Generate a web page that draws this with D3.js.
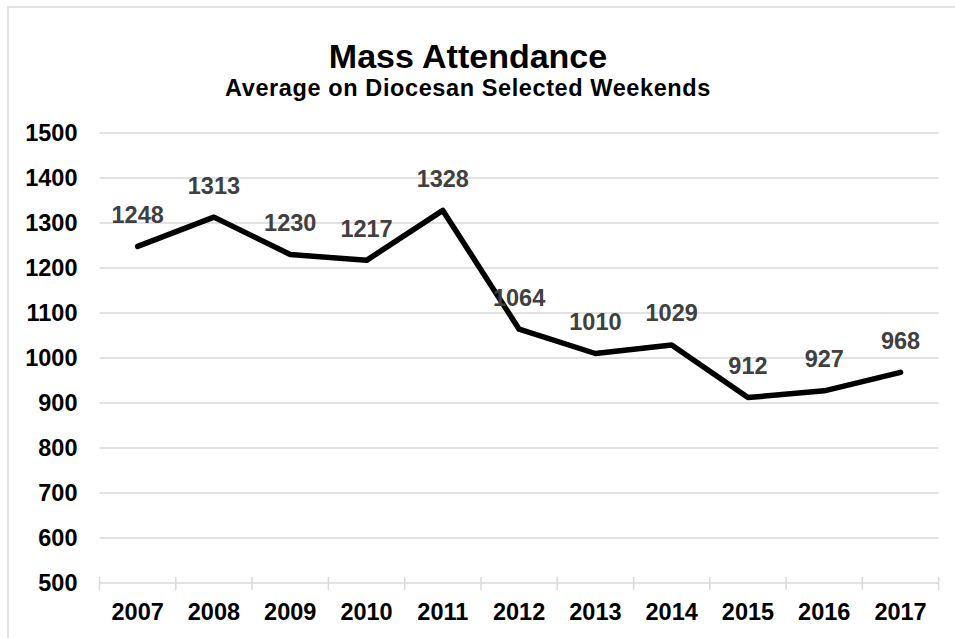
<!DOCTYPE html>
<html>
<head>
<meta charset="utf-8">
<script src="https://cdn.jsdelivr.net/npm/d3@7"></script>
<style>
  body { margin: 0; background: #fff; }
  text { font-family: Arial, "Liberation Sans", sans-serif; font-weight: bold; }
</style>
</head>
<body>
<div id="chart-container"></div>
<script>
const years = ["2007", "2008", "2009", "2010", "2011", "2012", "2013", "2014", "2015", "2016", "2017"];
const attendance = [1248, 1313, 1230, 1217, 1328, 1064, 1010, 1029, 912, 927, 968];
const yTicks = [500, 600, 700, 800, 900, 1000, 1100, 1200, 1300, 1400, 1500];

const svgWidth = 955,
    svgHeight = 638,
    margin = { top: 133, right: 16.3, bottom: 55, left: 99.5 },
    width = svgWidth - margin.left - margin.right,
    height = svgHeight - margin.top - margin.bottom;

const root = d3.select("#chart-container").append("svg")
    .attr("width", svgWidth)
    .attr("height", svgHeight);

// chart area border (runs off the right and bottom edges)
root.append("rect")
    .attr("x", 8).attr("y", 7)
    .attr("width", 1000).attr("height", 700)
    .attr("fill", "none")
    .attr("stroke", "#d9d9d9")
    .attr("stroke-width", 1.5);

// titles
root.append("text")
    .attr("x", 468).attr("y", 67.5)
    .attr("text-anchor", "middle")
    .attr("font-size", 34)
    .attr("fill", "#000")
    .text("Mass Attendance");
root.append("text")
    .attr("x", 468).attr("y", 96)
    .attr("text-anchor", "middle")
    .attr("font-size", 23.5)
    .attr("letter-spacing", 0.6)
    .attr("fill", "#000")
    .text("Average on Diocesan Selected Weekends");

const svg = root.append("g")
    .attr("transform", `translate(${margin.left},${margin.top})`);

// scales
let xScale = d3.scaleBand()
        .domain(years)
        .range([0, width]),
    yScale = d3.scaleLinear()
        .domain([500, 1500])
        .range([height, 0]);

// gridlines
svg.append("g")
    .selectAll("line")
    .data(yTicks.slice(1))
    .join("line")
    .attr("x1", 0).attr("x2", width)
    .attr("y1", (d) => yScale(d)).attr("y2", (d) => yScale(d))
    .attr("stroke", "#d9d9d9")
    .attr("stroke-width", 1.5);

// y axis labels
let yAxis = svg.append("g")
    .call(d3.axisLeft(yScale).tickValues(yTicks).tickFormat(d3.format("d")).tickSize(0).tickPadding(22));
yAxis.select(".domain").remove();
yAxis.selectAll("text")
    .attr("font-size", 23.5)
    .attr("font-family", "Arial, 'Liberation Sans', sans-serif")
    .attr("fill", "#000");

// x axis with crossing tick marks at category boundaries
let xAxis = svg.append("g")
    .attr("transform", `translate(0, ${height})`);
xAxis.append("line")
    .attr("x1", 0).attr("x2", width)
    .attr("stroke", "#d9d9d9")
    .attr("stroke-width", 1.5);
xAxis.selectAll(".bound")
    .data(years.concat(["end"]))
    .join("line")
    .attr("class", "bound")
    .attr("x1", (d, i) => i * xScale.step())
    .attr("x2", (d, i) => i * xScale.step())
    .attr("y1", -6).attr("y2", 7)
    .attr("stroke", "#d9d9d9")
    .attr("stroke-width", 1.5);
xAxis.selectAll(".xlabel")
    .data(years)
    .join("text")
    .attr("class", "xlabel")
    .attr("x", (d) => xScale(d) + xScale.bandwidth() / 2)
    .attr("y", 37)
    .attr("text-anchor", "middle")
    .attr("font-size", 23.5)
    .attr("fill", "#000")
    .text((d) => d);

// line
const pts = years.map((y, i) => ({ year: y, value: attendance[i] }));
const line = d3.line()
    .x((d) => xScale(d.year) + xScale.bandwidth() / 2)
    .y((d) => yScale(d.value));
svg.append("path")
    .datum(pts)
    .attr("d", line)
    .attr("fill", "none")
    .attr("stroke", "#000")
    .attr("stroke-width", 5.5)
    .attr("stroke-linejoin", "round")
    .attr("stroke-linecap", "round");

// data labels
svg.selectAll(".dlabel")
    .data(pts)
    .join("text")
    .attr("class", "dlabel")
    .attr("x", (d) => xScale(d.year) + xScale.bandwidth() / 2)
    .attr("y", (d) => yScale(d.value) - 23.5)
    .attr("text-anchor", "middle")
    .attr("font-size", 23.5)
    .attr("fill", "#404040")
    .text((d) => d.value);
</script>
</body>
</html>
